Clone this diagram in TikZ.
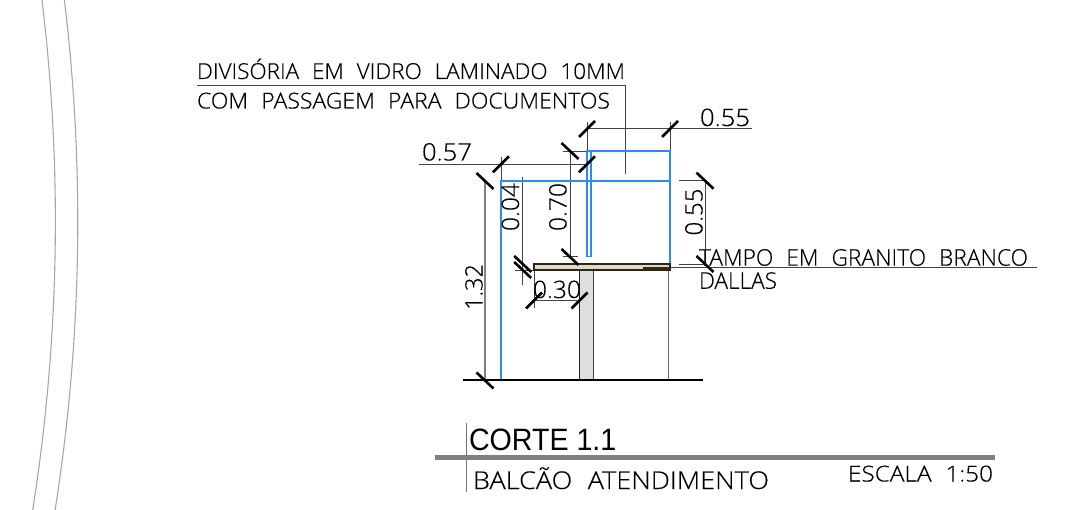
\documentclass[tikz,border=0pt]{standalone}
\usepackage{fontspec}
\usepackage{graphicx}
\setmainfont{Liberation Sans}
\newfontfamily\cad[WordSpace=2.2,FakeBold=0.35]{Open Sans Light}
\newsavebox\fitbox
\newcommand{\fitw}[3]{\fontsize{#2}{#2}\cad\sbox\fitbox{#3}\pgfmathsetmacro\fitratio{#1/(\the\wd\fitbox)}\scalebox{\fitratio}[1]{\usebox\fitbox}}
\definecolor{glass}{HTML}{2A8CF0}
\definecolor{dimgrey}{HTML}{444444}
\tikzset{
  blueline/.style={glass,line width=1.7pt},
  dimline/.style={dimgrey,line width=0.9pt},
  tickmark/.style={black,line width=2.6pt},
  arcline/.style={black!35,line width=1.1pt},
  label/.style={inner sep=0pt,outer sep=0pt,anchor=base west,text=black},
  vlabel/.style={label,rotate=90}
}
\newcommand{\slashtick}[2]{\draw[tickmark] (#1-8,#2+8) -- (#1+8,#2-8);}
\newcommand{\backtick}[2]{\draw[tickmark] (#1-8.5,#2-8) -- (#1+8.5,#2+8);}
\begin{document}
\begin{tikzpicture}[x=1pt,y=-1pt]
\useasboundingbox (0,0) rectangle (1083,510);
% border arcs
\draw[arcline] (42,0) .. controls (62.5,170) and (59.4,340) .. (32.7,510);
\draw[arcline] (64.4,0) .. controls (84.9,170) and (81.8,340) .. (55.1,510);
% leader
\draw[dimline] (197,85.3) -- (625.7,85.3) -- (625.7,174);
\draw[dimline] (670,267.7) -- (1036.7,267.7);
% dims
\draw[dimline] (419,164.3) -- (587,164.3);
\draw[dimline] (501,157) -- (501,180);
\draw[dimline] (587,122) -- (587,150);
\draw[dimline] (587,128.7) -- (752,128.7);
\draw[dimline] (670,122) -- (670,150);
\draw[dimline] (570,151) -- (570,256.7);
\draw[dimline] (563,151) -- (587,151);
\draw[dimline] (563,256.7) -- (578,256.7);
\draw[dimline] (522.7,177) -- (522.7,285);
\draw[dimline] (515,270) -- (534,270);
\draw[dimline] (705,180.7) -- (705,264);
\draw[dimline] (679,180.7) -- (705,180.7);
\draw[dimline] (679,264) -- (705,264);
\draw[dimline] (534,300) -- (579,300);
\draw[dimline] (534,270) -- (534,308);
\draw[black!50,line width=1.5pt] (485,181) -- (485,380);
\draw[black!60,line width=1pt] (668.7,270) -- (668.7,380);
% blue
\draw[blueline] (501,380) -- (501,180.7) -- (670,180.7);
\draw[blueline] (591.3,151) -- (670,151) -- (670,264);
\draw[blueline] (587,151) rectangle (591.3,256.5);
% leg
\fill[black!13] (579.3,270) rectangle (593.3,380);
\draw[black!75,line width=1.3pt] (593.3,270) -- (593.3,380);
\draw[black!70!glass,line width=1.2pt] (579.3,270) -- (579.3,380);
% tabletop
\draw[black!85,fill={rgb,255:red,226;green,218;blue,186},line width=1.3pt] (534,264) rectangle (670,270);
\fill[black!70!brown] (643,267.5) rectangle (670,270.5);
% ground
\draw[black,line width=2pt] (463,380.3) -- (703,380.3);
% ticks
\backtick{485}{181}
\backtick{485}{380.5}
\slashtick{501}{164.3}
\slashtick{587}{164.3}
\slashtick{587}{129}
\slashtick{670}{129}
\backtick{570}{151}
\backtick{570}{257}
\backtick{522.7}{264}
\backtick{522.7}{270}
\backtick{705}{180.7}
\backtick{705}{264}
\slashtick{534}{300.5}
\slashtick{579.5}{300.5}
% title block
\draw[black!55,line width=1pt] (466,423) -- (466,492);
\draw[black!50,line width=5pt] (435,457.5) -- (995,457.5);
% labels
\node[label] (l1) at (197,79) {\fitw{428}{22}{DIVISÓRIA EM VIDRO LAMINADO 10MM}};
\node[label] (l2) at (197,108.5) {\fitw{413}{22}{COM PASSAGEM PARA DOCUMENTOS}};
\node[label] (l3) at (699,265.7) {\fitw{329}{23}{TAMPO EM GRANITO BRANCO}};
\node[label] (l4) at (699,288.8) {\fitw{78}{23}{DALLAS}};
\node[label] (d1) at (700,126) {\fitw{50}{24}{0.55}};
\node[label] (d2) at (422,160.5) {\fitw{50}{24}{0.57}};
\node[label] (d3) at (533,298) {\fitw{48}{24}{0.30}};
\node[vlabel] (d4) at (519,231) {\fitw{48}{24}{0.04}};
\node[vlabel] (d5) at (566.5,231) {\fitw{48}{24}{0.70}};
\node[vlabel] (d6) at (702.5,235.5) {\fitw{47}{24}{0.55}};
\node[vlabel] (d7) at (482.5,310) {\fitw{46}{24}{1.32}};
\node[label] (t1) at (469,450) {\scalebox{1}[1.08]{\fontsize{28.6}{28.6}\selectfont CORTE 1.1}};
\node[label] (t2) at (473,489) {\fitw{296}{24.5}{BALCÃO ATENDIMENTO}};
\node[label] (t3) at (848,481.5) {\fitw{145}{22}{ESCALA 1:50}};
\end{tikzpicture}
\end{document}
